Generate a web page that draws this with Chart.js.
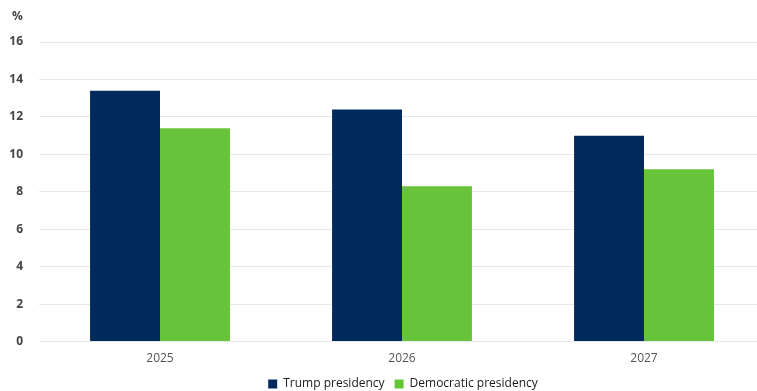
<!DOCTYPE html>
<html>
<head>
<meta charset="utf-8">
<script src="https://cdn.jsdelivr.net/npm/chart.js@4.4.1/dist/chart.umd.min.js"></script>
<style>
  html, body { margin: 0; padding: 0; background: #fff; overflow: hidden; }
  #wrap { width: 757px; height: 391px; overflow: hidden; }
</style>
</head>
<body>
<div id="wrap"><canvas id="chart" width="806" height="391"></canvas></div>
<script>
// 데이터
const years = ['2025', '2026', '2027'];
const trumpValues = [13.4, 12.4, 11.0];
const demValues = [11.4, 8.3, 9.2];
const seriesNames = ['Trump presidency', 'Democratic presidency'];

const navy = '#012a5c';
const green = '#67c43a';

// "%" 라벨을 y축 위에 그림
const percentLabel = {
  id: 'percentLabel',
  afterDraw(chart) {
    const ctx = chart.ctx;
    const y = chart.scales.y;
    ctx.save();
    ctx.font = 'bold 12px "Open Sans"';
    ctx.fillStyle = '#444';
    ctx.textAlign = 'left';
    ctx.textBaseline = 'middle';
    ctx.fillText('%', y.left + 12, chart.chartArea.top - 25);
    ctx.restore();
  }
};

const ctx = document.getElementById('chart').getContext('2d');
new Chart(ctx, {
  type: 'bar',
  data: {
    labels: years,
    datasets: [
      { label: seriesNames[0], data: trumpValues, backgroundColor: navy },
      { label: seriesNames[1], data: demValues, backgroundColor: green }
    ]
  },
  options: {
    responsive: false,
    animation: false,
    layout: { padding: { top: 42, bottom: -9, left: 0, right: 0 } },
    datasets: {
      bar: { categoryPercentage: 0.578, barPercentage: 1.0 }
    },
    scales: {
      x: {
        grid: { display: false },
        border: { display: false },
        ticks: { color: '#555', font: { family: 'Open Sans', size: 12 }, padding: 2 }
      },
      y: {
        min: 0,
        max: 16,
        grid: { color: '#e8e8e8', drawTicks: false },
        border: { display: false },
        ticks: {
          stepSize: 2,
          padding: 16,
          color: '#444',
          font: { family: 'Open Sans', size: 12, weight: 'bold' }
        },
        afterFit(scale) { scale.width = 39; }
      },
      r: {
        position: 'right',
        grid: { display: false },
        border: { display: false },
        ticks: { display: false },
        afterFit(scale) { scale.width = 41; }
      }
    },
    plugins: {
      legend: {
        position: 'bottom',
        labels: {
          boxWidth: 9,
          boxHeight: 9,
          padding: 10,
          color: '#1a1a1a',
          font: { family: 'Open Sans', size: 12 }
        }
      },
      tooltip: { enabled: false }
    }
  },
  plugins: [percentLabel]
});
</script>
</body>
</html>
